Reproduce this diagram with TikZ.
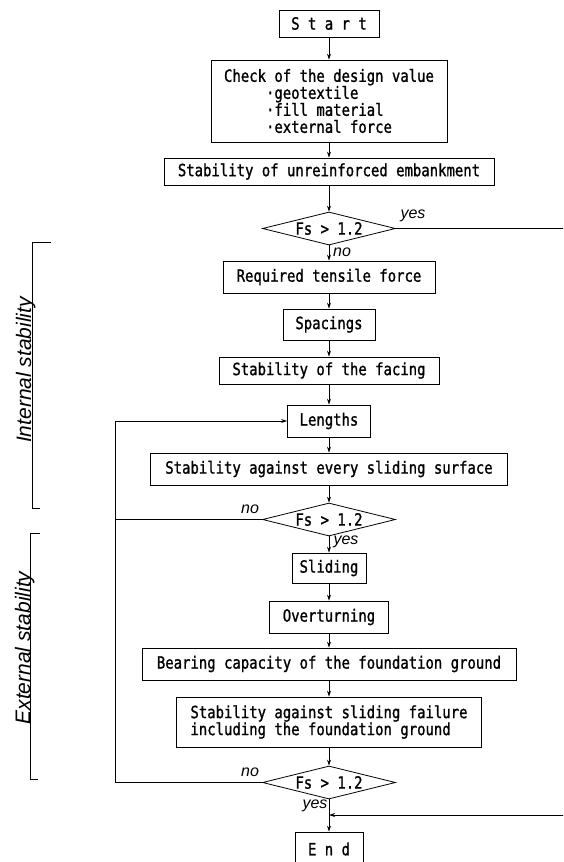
\documentclass[tikz,border=0pt]{standalone}
\usepackage{fontspec}
\usetikzlibrary{shapes.geometric,arrows.meta}
\newfontfamily\tw[FakeStretch=0.83,FakeBold=1.2]{DejaVu Sans Mono}
\newfontfamily\lab{Liberation Sans}
\begin{document}
\begin{tikzpicture}[x=1pt,y=-1pt,
  box/.style={draw, line width=0.8pt, font=\tw\fontsize{16.8}{17}\selectfont, inner sep=0pt, align=center},
  dec/.style={draw, shape=diamond, aspect=4, line width=0.8pt, minimum width=133pt, minimum height=33pt, inner sep=0pt, font=\tw\fontsize{16.8}{17}\selectfont},
  arr/.style={-{Stealth[length=6pt,width=4pt]}, line width=0.8pt},
  ln/.style={line width=0.8pt},
  yn/.style={font=\lab\itshape\fontsize{16}{16}\selectfont, inner sep=0pt},
  side/.style={font=\lab\itshape\fontsize{21}{21}\selectfont, rotate=90, anchor=base, inner sep=0pt}]
\useasboundingbox (0,0) rectangle (563,862);
\clip (0,0) rectangle (563,862);
\fill[white] (0,0) rectangle (563,862);

\node[box, minimum width=100pt, minimum height=27pt] (start) at (329,23.5) {S t a r t};
\node[box, minimum width=236pt, minimum height=82pt, align=left] (check) at (329,101)
  {Check of the design value\\
   \phantom{Check}·geotextile\\
   \phantom{Check}·fill material\\
   \phantom{Check}·external force};
\node[box, minimum width=330pt, minimum height=27pt] (unre) at (329,171.5) {Stability of unreinforced embankment};
\node[dec] (d1) at (329,228.5) {Fs > 1.2};
\node[box, minimum width=212pt, minimum height=32pt] (req) at (329,277) {Required tensile force};
\node[box, minimum width=92pt, minimum height=31pt] (spac) at (329,324.5) {Spacings};
\node[box, minimum width=220pt, minimum height=27pt] (facing) at (329,370.5) {Stability of the facing};
\node[box, minimum width=83pt, minimum height=32pt] (lengths) at (329,421) {Lengths};
\node[box, minimum width=357pt, minimum height=32pt] (every) at (329,469) {Stability against every sliding surface};
\node[dec] (d2) at (329,519.5) {Fs > 1.2};
\node[box, minimum width=74pt, minimum height=30pt] (sliding) at (329,568) {Sliding};
\node[box, minimum width=119pt, minimum height=32pt] (over) at (329,617) {Overturning};
\node[box, minimum width=374pt, minimum height=32pt] (bearing) at (329,664) {Bearing capacity of the foundation ground};
\node[box, minimum width=305pt, minimum height=50pt, align=left] (failure) at (329,722)
  {Stability against sliding failure\\including the foundation ground};
\node[dec] (d3) at (329,782.5) {Fs > 1.2};
\node[box, minimum width=68pt, minimum height=34pt] (end) at (329,849) {E n d};

\draw[arr] (start) -- (check);
\draw[arr] (check) -- (unre);
\draw[arr] (unre) -- (d1);
\draw[arr] (d1) -- (req);
\draw[arr] (req) -- (spac);
\draw[arr] (spac) -- (facing);
\draw[arr] (facing) -- (lengths);
\draw[arr] (lengths) -- (every);
\draw[arr] (every) -- (d2);
\draw[arr] (d2) -- (sliding);
\draw[arr] (sliding) -- (over);
\draw[arr] (over) -- (bearing);
\draw[arr] (bearing) -- (failure);
\draw[arr] (failure) -- (d3);
\draw[arr] (d3) -- (end);

\coordinate (r1) at (566,228.5);
\coordinate (r2) at (566,815);
\coordinate (j) at (329,815);
\draw[ln] (d1.east) -- (r1);
\draw[arr] (r2) -- (j);

\coordinate (lt) at (115,421);
\coordinate (lb) at (115,782.5);
\draw[arr] (d3.west) -- (lb) -- (lt) -- (lengths.west);
\draw[ln] (d2.west) -- (d2.west -| lt);

\node[yn] at (413,216) {yes};
\node[yn] at (342,252) {no};
\node[yn] at (250,509) {no};
\node[yn] at (346,542) {yes};
\node[yn] at (250,772) {no};
\node[yn] at (315,806) {yes};

\draw[ln] (51,242) -- (32,242) -- (32,508) -- (40,508);
\draw[ln] (40,533) -- (30,533) -- (30,779) -- (38,779);
\node[side] at (31,370) {Internal stability};
\node[side] at (30,648) {External stability};
\end{tikzpicture}
\end{document}
